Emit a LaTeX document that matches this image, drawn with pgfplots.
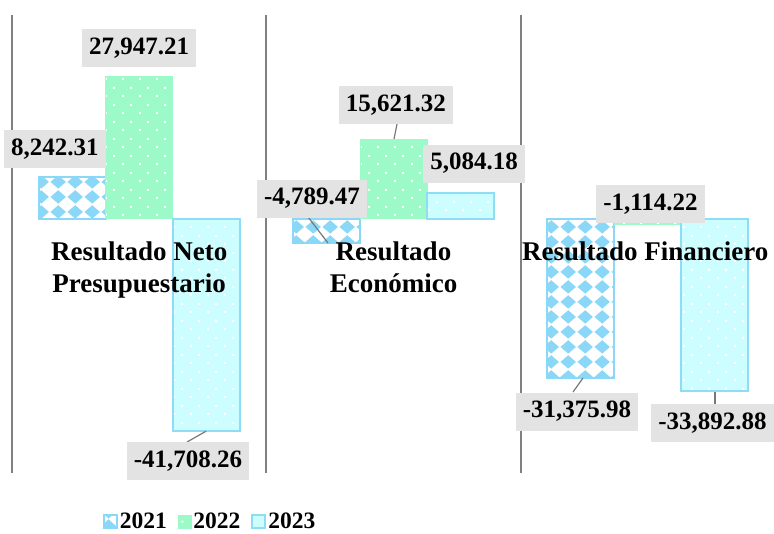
\documentclass[border=0pt]{standalone}
\usepackage{pgfplots}
\pgfplotsset{compat=1.18}
\usepackage{fontspec}
\setmainfont{Liberation Serif}
\usetikzlibrary{patterns.meta}
\definecolor{c21}{RGB}{138,215,247}
\definecolor{c22}{RGB}{155,250,200}
\definecolor{c23}{RGB}{205,254,255}
\definecolor{c23b}{RGB}{142,220,245}
\definecolor{lblgray}{RGB}{227,227,227}
\definecolor{sepgray}{RGB}{128,128,128}
\definecolor{leadgray}{RGB}{120,120,120}
\tikzdeclarepattern{
  name=diam21, type=colored,
  bottom left={(0pt,0pt)}, top right={(16.7pt,15pt)}, tile size={(16.7pt,15pt)},
  code={
    \fill[white] (0pt,0pt) rectangle (16.7pt,15pt);
    \fill[c21] (8.35pt,0.4pt) -- (16.2pt,7.5pt) -- (8.35pt,14.6pt) -- (0.5pt,7.5pt) -- cycle;
  }
}
\tikzdeclarepattern{
  name=wdots, type=colored,
  bottom left={(0pt,0pt)}, top right={(17pt,16.6pt)}, tile size={(17pt,16.6pt)},
  code={
    \fill[white] (3.25pt,3.15pt) rectangle (5.25pt,5.15pt);
    \fill[white] (11.75pt,11.45pt) rectangle (13.75pt,13.45pt);
  }
}
\pgfplotstableread{
x y
0 8242.31
1 -4789.47
2 -31375.98
}\tA
\pgfplotstableread{
x y
0 27947.21
1 15621.32
2 -1114.22
}\tB
\pgfplotstableread{
x y
0 -41708.26
1 5084.18
2 -33892.88
}\tC
\begin{document}
\begin{tikzpicture}[
  lbl/.style={fill=lblgray, font=\bfseries\fontsize{25}{25}\selectfont, inner xsep=7pt, minimum height=38pt, anchor=center},
  cat/.style={font=\bfseries\fontsize{27}{32}\selectfont, align=center, anchor=north},
  lead/.style={draw=leadgray, line width=1.2pt}]
\begin{axis}[
  scale only axis, width=763pt, height=457.92pt,
  xmin=-0.5, xmax=2.5, ymin=-50000, ymax=40000,
  ybar=0pt, bar width=0.2634,
  axis line style={draw=none},
  ytick=\empty,
  xtick={-0.5,0.5,1.5}, xticklabels={},
  major tick length=0pt,
  xmajorgrids, major grid style={draw=sepgray, line width=2pt},
  clip=false,
  legend columns=3,
  legend style={draw=none, fill=none, at={(0.2595,-0.107)}, anchor=center,
    font=\bfseries\fontsize{23.5}{24}\selectfont,
    /tikz/every even column/.append style={column sep=9pt},
    inner sep=0pt},
  legend image code/.code={\draw[#1] (0pt,-6.5pt) rectangle (13pt,6.5pt);},
]
\addplot[draw=c21, line width=2pt, pattern=diam21] table[x=x,y=y]{\tA};
\addplot[draw=c22, line width=0.5pt, fill=c22, postaction={pattern=wdots}] table[x=x,y=y]{\tB};
\addplot[draw=c23b, line width=2pt, fill=c23, postaction={pattern=wdots}] table[x=x,y=y]{\tC};
\legend{2021,2022,2023}
% leader lines
\draw[lead] (axis cs:0.263,-41800) -- (axis cs:0.188,-43930);
\draw[lead] (axis cs:0.664,290) -- (axis cs:0.7425,-4815);
\draw[lead] (axis cs:1.0138,18570) -- (axis cs:1.002,15620);
\draw[lead] (axis cs:1.745,-31350) -- (axis cs:1.7058,-34100);
\draw[lead] (axis cs:2.264,-34100) -- (axis cs:2.264,-36460);
% value labels
\node[lbl] at (axis cs:-0.331,13660) {8,242.31};
\node[lbl] at (axis cs:0.0,33510) {27,947.21};
\node[lbl] at (axis cs:0.192,-47660) {-41,708.26};
\node[lbl] at (axis cs:0.6796,3930) {-4,789.47};
\node[lbl] at (axis cs:1.0098,22310) {15,621.32};
\node[lbl] at (axis cs:1.3165,10810) {5,084.18};
\node[lbl] at (axis cs:2.0105,2850) {-1,114.22};
\node[lbl] at (axis cs:1.7215,-37930) {-31,375.98};
\node[lbl] at (axis cs:2.2543,-40190) {-33,892.88};
% category labels
\node[cat] at (axis cs:0,-3900) {Resultado Neto\\Presupuestario};
\node[cat] at (axis cs:1,-3900) {Resultado\\Económico};
\node[cat] at (axis cs:1.99,-3900) {Resultado Financiero};
\end{axis}
\pgfresetboundingbox
\path[use as bounding box] ([xshift=-12pt,yshift=-61pt]current axis.south west) rectangle ([xshift=-1pt,yshift=15pt]current axis.north east);
\end{tikzpicture}
\end{document}
